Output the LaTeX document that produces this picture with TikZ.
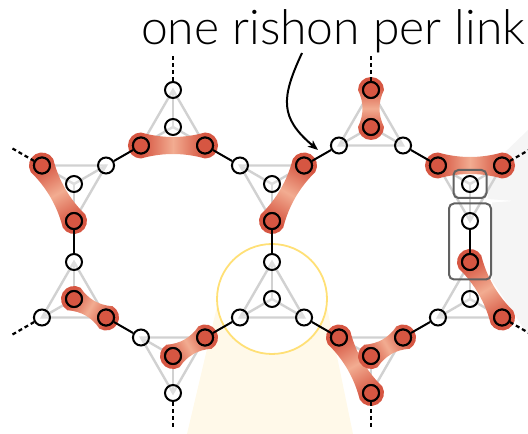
\documentclass[tikz,border=0pt]{standalone}
\usepackage{fontspec}
\usepackage{tikz}
\usetikzlibrary{arrows.meta,positioning,calc,fit,backgrounds}
\newfontfamily\labelfont{Lato}[UprightFont={* Light}]
\definecolor{dimred}{RGB}{214,86,66}
\definecolor{dimlight}{RGB}{242,172,145}
\definecolor{zoomyellow}{RGB}{255,224,118}
\definecolor{zoomfill}{RGB}{255,249,233}
\pgfdeclarehorizontalshading{dimer}{100bp}{color(0bp)=(dimred); color(33bp)=(dimred);
  color(50bp)=(dimlight); color(67bp)=(dimred); color(100bp)=(dimred)}

% blob joining two occupied sites
\newcommand\dimer[2]{%
  \pgfmathanglebetweenpoints{\pgfpointanchor{#1}{center}}{\pgfpointanchor{#2}{center}}%
  \let\dmang\pgfmathresult
  \pgfpointdiff{\pgfpointanchor{#1}{center}}{\pgfpointanchor{#2}{center}}%
  \pgfgetlastxy{\dmx}{\dmy}%
  \pgfmathveclen{\dmx}{\dmy}\let\dmlen\pgfmathresult
  \begin{scope}[transform canvas={shift={(#1)},rotate=\dmang}]
    \shade[shading=dimer] (0,13) .. controls ({\dmlen/3},7) and ({2*\dmlen/3},7) .. (\dmlen,13)
      arc[start angle=90,end angle=-90,radius=13]
      .. controls ({2*\dmlen/3},-7) and ({\dmlen/3},-7) .. (0,-13)
      arc[start angle=270,end angle=90,radius=13] -- cycle;
  \end{scope}}

\begin{document}
\begin{tikzpicture}[x=1pt,y=1pt,>={Stealth[length=10pt,width=8pt,inset=2.5pt]},
  site/.style={circle,draw,line width=2pt,minimum size=16pt,inner sep=0pt,fill=white,fill opacity=.3},
  full/.style={fill=dimred,fill opacity=1},
  lat/.style={black!18,line width=2.4pt},
  link/.style={line width=2pt},
  dangling/.style={line width=2.2pt,dash pattern=on 4pt off 3pt},
  cut/.style={draw=black!62,line width=2pt,rounded corners=5pt,inner sep=0pt}]
  \useasboundingbox (0,0) rectangle (528,434);

  % triangles: name/x/y/direction of first corner
  \foreach \t/\x/\y/\o in {A/173/307/90,B/74/250/270,C/74/135/90,D/173/78/270,E/272/135/90,
                           F/272/250/270,G/371/307/90,H/470/250/270,I/470/135/90,J/371/78/270}{
    \node[site] (\t-c) at (\x,\y) {};
    \foreach \k in {1,2,3}
      \node[site] (\t-\k) at ($(\x,\y)+({\o+120*(\k-1)}:37)$) {};
  }
  \foreach \s in {A-2,A-3,B-1,B-3,C-c,C-3,D-c,D-2,F-1,F-2,G-1,G-c,H-2,H-3,I-1,I-3,J-c,J-1,J-2,J-3}
    \node[site,full] (\s) at (\s) {};

  \foreach \a/\b in {A-2/B-2,A-3/F-3,B-1/C-1,C-3/D-3,D-2/E-2,E-1/F-1,F-2/G-2,G-3/H-3,H-1/I-1,I-2/J-2,J-3/E-3}
    \draw[link] (\a) -- (\b);
  \foreach \t/\k in {A/1,G/1,B/3,C/2,D/1,J/1,H/2,I/3}{
    \coordinate (\t-\k-out) at ($(\t-c)!1.95!(\t-\k)$);
    \draw[dangling] (\t-\k) -- (\t-\k-out);
  }

  \node[cut,fit=(H-c),inner xsep=7.5pt,inner ysep=5pt] (hbox) {};
  \node[cut,fit=(H-1)(I-1),inner xsep=12pt,inner ysep=8.5pt] (lbox) {};

  \node[anchor=base west,inner sep=0pt,font=\labelfont\fontsize{48}{50}\selectfont] (lbl) at (141,389) {one rishon per link};
  \coordinate (arr-s) at (302,381);
  \coordinate (arr-e) at (318,284);
  \draw[->,line width=2pt] (arr-s) to[out=245,in=140,looseness=1.3] (arr-e);

  \begin{pgfonlayer}{background}
    \fill[zoomfill] (219,136) -- (325,136) -- (353,0) -- (187,0) -- cycle;
    \fill[black!4] (hbox.north east) -- (528,304) -- (528,232) -- (hbox.south east) -- cycle;
    \fill[black!4] (lbox.north east) -- (528,234) -- (528,99) -- (lbox.south east) -- cycle;
    \node[circle,draw=zoomyellow,fill=white,line width=1.8pt,minimum size=110pt,inner sep=0pt] (zoom) at (E-c) {};
    \foreach \t in {A,...,J}{
      \draw[lat] (\t-1.center) -- (\t-2.center) -- (\t-3.center) -- cycle;
      \foreach \k in {1,2,3}
        \draw[lat] (\t-c.center) -- (\t-\k.center);
    }
    \foreach \a/\b in {A-2/A-3,B-3/B-1,C-c/C-3,D-c/D-2,F-2/F-1,G-1/G-c,H-3/H-2,I-1/I-3,J-3/J-1,J-c/J-2}
      \dimer{\a}{\b};
  \end{pgfonlayer}
\end{tikzpicture}
\end{document}
